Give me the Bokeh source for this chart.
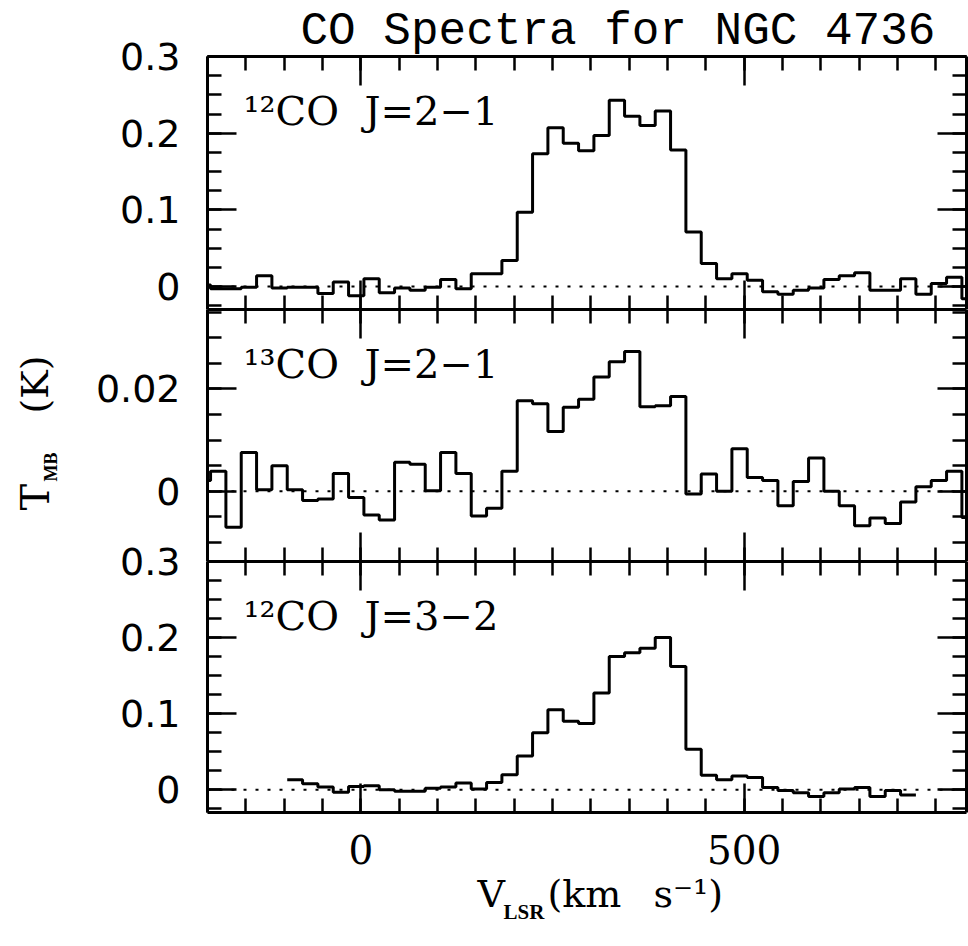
import numpy as np
from bokeh.plotting import figure
from bokeh.layouts import column
from bokeh.models import (LinearAxis, SingleIntervalTicker, PrintfTickFormatter,
                          CustomJSTickFormatter, Range1d, Span, Label)
from bokeh.embed import file_html
from bokeh.resources import INLINE

# ---------------- data ----------------
TITLE = "CO Spectra for NGC 4736"
PANEL_LABELS = ["¹²CO\u00a0 J=2−1", "¹³CO\u00a0 J=2−1", "¹²CO\u00a0 J=3−2"]
X_RANGE = (-200, 790)
X_TICK_INTERVAL = 500
Y_RANGES = [(-0.03, 0.3000001), (-0.0137, 0.0355), (-0.03, 0.3000001)]
Y_TICK_INTERVALS = [0.1, 0.02, 0.1]

# channel left edges (km/s) for the J=2-1 spectra (last value closes the final channel)
EDGES_21 = [-216, -196, -176, -156, -136, -116, -96, -76, -56, -36, -16,
            4, 24, 44, 64, 84, 104, 124, 144, 164, 184,
            204, 224, 244, 264, 284, 304, 324, 344, 364, 384,
            404, 424, 444, 464, 484, 504, 524, 544, 564, 584,
            604, 624, 644, 664, 684, 704, 724, 744, 764, 784, 804]

T_12CO_21 = [0.002, -0.003, -0.003, -0.001, 0.014, -0.002, -0.001, -0.001, -0.009, 0.006, -0.012,
             0.010, -0.008, -0.002, -0.005, -0.001, 0.009, -0.003, 0.0165, 0.0165, 0.034,
             0.097, 0.173, 0.207, 0.187, 0.177, 0.197, 0.243, 0.222, 0.210, 0.229,
             0.178, 0.071, 0.030, 0.010, 0.0165, 0.008, -0.007, -0.010, -0.005, -0.002,
             0.009, 0.014, 0.018, -0.005, -0.005, 0.010, -0.010, 0.004, 0.012, -0.016]

T_13CO_21 = [0.0021, 0.0039, -0.0070, 0.0076, 0.0003, 0.0050, 0.0003, -0.0018, -0.0015, 0.0035, -0.0012,
             -0.0046, -0.0056, 0.0057, 0.0053, 0.0001, 0.0076, 0.0035, -0.0048, -0.0033, 0.0039,
             0.0177, 0.0171, 0.0117, 0.0164, 0.0180, 0.0223, 0.0253, 0.0273, 0.0165, 0.0167,
             0.0185, -0.0005, 0.0034, 0.0000, 0.0083, 0.0027, 0.0021, -0.0028, 0.0019, 0.0065,
             0.0000, -0.0028, -0.0067, -0.0052, -0.0063, -0.0021, 0.0009, 0.0021, 0.0039, -0.0051]

# channel left edges (km/s) for the J=3-2 spectrum
EDGES_32 = [-96, -76, -56, -36, -16, 4, 24, 44, 64, 84,
            104, 124, 144, 164, 184, 204, 224, 244, 264, 284,
            304, 324, 344, 364, 384, 404, 424, 444, 464, 484,
            504, 524, 544, 564, 584, 604, 624, 644, 664, 684, 704, 724]

T_12CO_32 = [0.013, 0.0078, 0.0035, -0.0035, 0.0043, 0.0052, 0.0, -0.002, -0.002, 0.002,
             0.0035, 0.0087, 0.001, 0.0096, 0.0196, 0.0443, 0.0748, 0.105, 0.090, 0.087,
             0.127, 0.175, 0.180, 0.186, 0.200, 0.162, 0.053, 0.019, 0.013, 0.018,
             0.016, 0.003, -0.001, -0.004, -0.009, -0.004, 0.001, 0.003, -0.009, -0.001, -0.007]

# ---------------- layout / style ----------------
PAGE_W, PAGE_H = 968, 946
FRAME_W = 759
FRAME_H = [253, 252, 251]
BORDER_L = 207
BORDER_R = 2
TOP_PAD = 56
BOTTOM_PAD = 134
OVERLAP = 26

AXIS_STYLE = dict(axis_line_color="black", axis_line_width=3,
                  major_tick_in=29, major_tick_out=0, minor_tick_in=14, minor_tick_out=0,
                  major_tick_line_color="black", major_tick_line_width=2.5,
                  minor_tick_line_color="black", minor_tick_line_width=2.5)


def hide_labels(ax):
    ax.formatter = CustomJSTickFormatter(code="return ''")
    ax.major_label_text_font_size = "0px"
    ax.major_label_standoff = 0


def make_panel(i, edges, temps, top_border, bottom_border, xlabels):
    lo, hi = Y_RANGES[i]
    p = figure(frame_width=FRAME_W, frame_height=FRAME_H[i],
               x_range=Range1d(*X_RANGE), y_range=Range1d(lo, hi),
               x_axis_type=None, y_axis_type=None,
               toolbar_location=None, output_backend="svg",
               min_border_left=BORDER_L, min_border_right=BORDER_R,
               min_border_top=top_border, min_border_bottom=bottom_border,
               outline_line_color=None, background_fill_color=None,
               border_fill_color=None)
    xt = SingleIntervalTicker(interval=X_TICK_INTERVAL, num_minor_ticks=10)
    yt = SingleIntervalTicker(interval=Y_TICK_INTERVALS[i], num_minor_ticks=4)
    for side in ("below", "above"):
        ax = LinearAxis(ticker=xt, **AXIS_STYLE)
        if side == "below" and xlabels:
            ax.major_label_text_font = "DejaVu Serif"
            ax.major_label_text_font_size = "39px"
            ax.major_label_text_color = "black"
            ax.major_label_standoff = 22
        else:
            hide_labels(ax)
        p.add_layout(ax, side)
    for side in ("left", "right"):
        ax = LinearAxis(ticker=yt, **AXIS_STYLE)
        if side == "left":
            ax.formatter = PrintfTickFormatter(format="%.1g")
            ax.major_label_text_font = "DejaVu Sans"
            ax.major_label_text_font_size = "38px"
            ax.major_label_text_color = "black"
            ax.major_label_standoff = 27
        else:
            hide_labels(ax)
        p.add_layout(ax, side)

    xs = np.asarray(edges, dtype=float)
    ys = np.append(np.asarray(temps, dtype=float), temps[-1])
    p.step(xs, ys, mode="after", line_color="black", line_width=3)
    p.add_layout(Span(location=0, dimension="width", line_color="black",
                      line_width=2, line_dash="3 9"))
    p.add_layout(Label(x=36, y=FRAME_H[i] - 54, x_units="screen", y_units="screen",
                       text=PANEL_LABELS[i], text_font="DejaVu Serif",
                       text_font_size="40px", text_color="black",
                       text_baseline="alphabetic", text_align="left"))
    return p


p1 = make_panel(0, EDGES_21, T_12CO_21, TOP_PAD, 0, False)
p2 = make_panel(1, EDGES_21, T_13CO_21, 0, 0, False)
p3 = make_panel(2, EDGES_32, T_12CO_32, OVERLAP, BOTTOM_PAD, True)
p3.margin = (-OVERLAP, 0, 0, 0)
panels = column(p1, p2, p3, spacing=0)

# transparent full-page overlay (separate root, pinned to the page corner)
# that carries the texts lying outside the panel frames; its data units are page pixels
ov = figure(width=PAGE_W, height=PAGE_H, x_range=Range1d(0, PAGE_W), y_range=Range1d(PAGE_H, 0),
            x_axis_type=None, y_axis_type=None, toolbar_location=None, output_backend="svg",
            min_border=0, min_border_left=0, min_border_right=0, min_border_top=0,
            min_border_bottom=0, outline_line_color=None, background_fill_color=None,
            border_fill_color=None)
ov.styles = {"position": "absolute", "left": "0px", "top": "0px", "z-index": "10"}


def put(x, y, text, font, size, angle=0, style="normal"):
    ov.add_layout(Label(x=x, y=y, text=text, text_font=font, text_font_size=size,
                        text_font_style=style, text_color="black",
                        angle=angle, angle_units="deg",
                        text_baseline="alphabetic", text_align="left"))


# title
put(300, 31, TITLE, "Liberation Mono", "46px")
# y-axis label  T_MB (K)
put(34, 510, "T", "DejaVu Serif", "40px", angle=90)
put(50, 481, "MB", "Liberation Serif", "18px", angle=90, style="bold")
put(34, 413, "(K)", "DejaVu Serif", "38px", angle=90)
# x-axis label  V_LSR (km s^-1)
put(477, 893, "V", "DejaVu Serif", "38px")
put(503, 911, "LSR", "Liberation Serif", "21px", style="bold")
put(547, 893, "(km", "DejaVu Serif", "38px")
put(653, 893, "s⁻¹)", "DejaVu Serif", "38px")

open("out.html", "w").write(file_html([panels, ov], INLINE, title="CO Spectra for NGC 4736"))
